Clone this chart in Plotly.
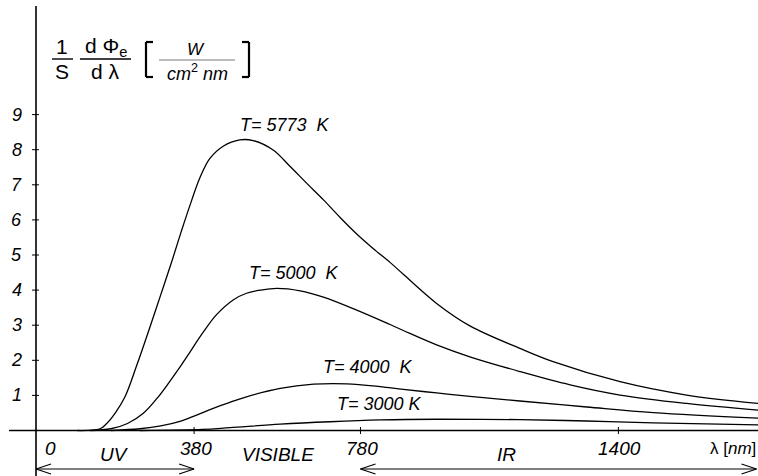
import plotly.graph_objects as go

# ---- data ----
lam_5773 = [100, 154, 170, 190, 214, 242, 274, 298, 326, 350, 374, 394, 418, 450, 490, 522, 570, 611, 651, 691, 731, 771, 811, 851, 883, 963, 1043, 1163, 1243, 1404, 1564, 1736]
val_5773 = [0, 0.05, 0.2, 0.49, 0.96, 1.85, 2.95, 3.80, 4.80, 5.70, 6.55, 7.20, 7.75, 8.10, 8.28, 8.26, 7.99, 7.52, 7.04, 6.57, 6.07, 5.60, 5.18, 4.79, 4.45, 3.62, 2.98, 2.34, 1.96, 1.39, 1.01, 0.77]

lam_5000 = [130, 180, 220, 258, 294, 350, 402, 434, 474, 506, 540, 579, 635, 691, 771, 851, 883, 963, 1043, 1163, 1284, 1404, 1564, 1736]
val_5000 = [0, 0.05, 0.2, 0.49, 0.96, 1.88, 2.80, 3.30, 3.72, 3.91, 4.0, 4.05, 3.98, 3.80, 3.43, 3.02, 2.85, 2.44, 2.10, 1.68, 1.30, 1.01, 0.77, 0.58]

lam_4000 = [180, 250, 300, 346, 386, 426, 466, 506, 587, 667, 747, 827, 883, 963, 1043, 1163, 1324, 1484, 1736]
val_4000 = [0, 0.05, 0.13, 0.26, 0.44, 0.63, 0.80, 0.96, 1.20, 1.32, 1.33, 1.25, 1.17, 1.07, 0.97, 0.84, 0.67, 0.51, 0.35]

lam_3000 = [250, 400, 466, 587, 707, 827, 963, 1163, 1324, 1484, 1736]
val_3000 = [0, 0.03, 0.08, 0.18, 0.25, 0.30, 0.32, 0.31, 0.27, 0.22, 0.16]

curve_labels = ["T= 5773  K", "T= 5000  K", "T= 4000  K", "T= 3000 K"]
y_ticks = [1, 2, 3, 4, 5, 6, 7, 8, 9]
x_ticks = [380, 780, 1400]
x_tick_labels = ["380", "780", "1400"]
region_labels = ["UV", "VISIBLE", "IR"]

# ---- geometry (pixel mapping) ----
W, H = 758, 476
X0PX, KX = 36.0, 0.416      # px of lambda=0, px per nm
Y0PX, KY = 430.5, 35.1      # px of value 0, px per unit

xr = [(0 - X0PX) / KX, (W - X0PX) / KX]
yr = [(Y0PX - H) / KY, (Y0PX - 0) / KY]

def px(xp):   # pixel x -> paper
    return xp / W

def py(yp):   # pixel y -> paper
    return 1 - yp / H

def dx(p):    # pixel length -> data x
    return p / KX

def dy(p):
    return p / KY

FONT = "Liberation Sans, Arial, sans-serif"

fig = go.Figure()
for lx, vy in [(lam_5773, val_5773), (lam_5000, val_5000), (lam_4000, val_4000), (lam_3000, val_3000)]:
    fig.add_trace(go.Scatter(x=lx, y=vy, mode="lines", line=dict(color="black", width=1.3, shape="spline", smoothing=1.0),
                             showlegend=False, hoverinfo="skip"))

shapes = []
def line_paper(x0, y0, x1, y1, w=1.5, color="black"):
    shapes.append(dict(type="line", xref="paper", yref="paper", x0=px(x0), y0=py(y0), x1=px(x1), y1=py(y1),
                       line=dict(color=color, width=w)))

# axes
line_paper(X0PX, 6, X0PX, H, 1.6)
line_paper(9, Y0PX, W, Y0PX, 1.6)
# y ticks
for t in y_ticks:
    shapes.append(dict(type="line", xref="x", yref="y", x0=-dx(4), x1=dx(3), y0=t, y1=t, line=dict(color="black", width=1)))
# x ticks
for t in x_ticks:
    shapes.append(dict(type="line", xref="x", yref="y", x0=t, x1=t, y0=-dy(3.5), y1=dy(3.5), line=dict(color="black", width=1)))

# region arrows
AY = 469
def arrow(xa, xb, left=True, right=True):
    pa, pb = X0PX + xa * KX, X0PX + xb * KX
    line_paper(pa, AY, pb, AY, 1.2)
    if left:
        line_paper(pa, AY, pa + 15, AY - 5, 1.2)
        line_paper(pa, AY, pa + 15, AY + 5, 1.2)
    if right:
        line_paper(pb, AY, pb - 15, AY - 5, 1.2)
        line_paper(pb, AY, pb - 15, AY + 5, 1.2)
arrow(0, 380)
arrow(780, (W - 1.5 - X0PX) / KX)

# title fraction lines and brackets
line_paper(52, 59, 73, 59, 1.4)
line_paper(80, 59, 131, 59, 1.4)
line_paper(159, 60, 235, 60, 0.8, "#555")
for xs, xe in [(146, 153), (249, 242)]:
    line_paper(xs, 42, xs, 77, 2.2)
    line_paper(xs, 42, xe, 42, 2.2)
    line_paper(xs, 77, xe, 77, 2.2)

ann = []
def text(s, x, y, size=17, xanchor="center"):
    ann.append(dict(text=s, xref="paper", yref="paper", x=px(x), y=py(y), xanchor=xanchor, yanchor="middle",
                    showarrow=False, font=dict(family=FONT, size=size, color="black")))

# title
text("1", 62, 47, 21)
text("S", 62, 71, 21)
text("d \u03a6<sub>e</sub>", 106, 47, 21)
text("d \u03bb", 105, 71, 21)
text("<i>W</i>", 196, 50, 17)
text("<i>cm</i><sup>2</sup>\u00a0<i>nm</i>", 197, 72, 18)

# y tick labels
for t in y_ticks:
    text("<i>%d</i>" % t, 24, Y0PX - t * KY, 18, "right")

# x labels
text("<i>0</i>", 50, 448, 19)
for t, s in zip(x_ticks, x_tick_labels):
    text("<i>%s</i>" % s, X0PX + t * KX + 1.5, 448, 19)
text("\u03bb [<i>nm</i>]", 758, 448, 17, "right")
for s, xc in zip(region_labels, [114, 278, 506]):
    text("<i>%s</i>" % s, xc, 454, 19)

# curve labels
for s, (xc, yc) in zip(curve_labels, [(285, 125), (294, 273), (368, 367), (379, 404)]):
    text("<i>" + s.replace(" ", "\u00a0") + "</i>", xc, yc, 18)

fig.update_layout(
    width=W, height=H, margin=dict(l=0, r=0, t=0, b=0),
    paper_bgcolor="white", plot_bgcolor="white",
    xaxis=dict(range=xr, visible=False, fixedrange=True),
    yaxis=dict(range=yr, visible=False, fixedrange=True),
    shapes=shapes, annotations=ann, showlegend=False,
)
fig.write_html("out.html", config={"displayModeBar": False},
               post_script="document.body.style.margin='0';document.body.style.overflow='hidden';")
